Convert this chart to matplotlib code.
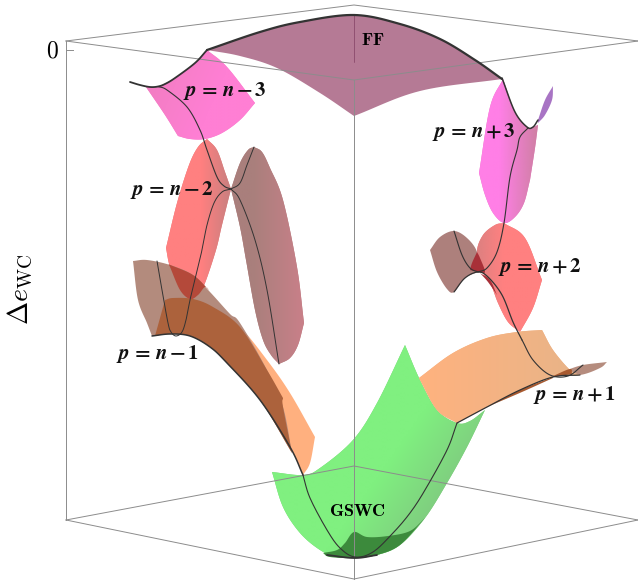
import numpy as np
import matplotlib
matplotlib.use("Agg")
import matplotlib.pyplot as plt
from matplotlib.patches import Polygon
from matplotlib.colors import to_rgb

# ---- frame (picture coordinates) ----
BOX_TOP_BACK = [(66, 41), (354, 5), (638, 41)]
BOX_TOP_FRONT = [(66, 41), (354, 80), (638, 41)]
BOX_BOTTOM_BACK = [(66, 520), (354, 466), (638, 520)]
BOX_BOTTOM_FRONT = [(66, 520), (354, 579), (638, 520)]
BOX_LEFT = [(66, 41), (66, 520)]
BOX_FRONT = [(354, 80), (354, 579)]
TICK_ZERO = [(66, 50), (73, 50)]

# ---- FF ----
FF_TOP = [(207, 50), (260, 32), (300, 22), (354, 15), (400, 24), (440, 39), (475, 60), (502, 79)]
FF_RIGHT = [(502, 79), (420, 91), (354, 116)]
FF_LEFT = [(354, 116), (320, 93), (277, 68), (240, 56), (207, 50)]
FF_CREASE = [(354, 15), (354, 62)]

# ---- p = n - 3 ----
M3_TOP = [(146, 87), (158, 86.5), (175, 78), (195, 63), (207, 50)]
M3_RIGHT = [(207, 50), (227, 67), (255, 103)]
M3_BOTTOM = [(255, 103), (240, 120), (222, 133), (205, 139), (190, 139), (178, 136)]
M3_LEFT = [(178, 136), (165, 115), (146, 87)]
M3_THICK = [(130, 82), (140, 85), (150, 87), (158, 86.5), (165, 84), (175, 78), (195, 63), (207, 50)]
M3_LINE = [(158, 86.5), (167, 90), (187, 107), (200, 130), (207, 150), (217, 177), (224, 186), (231, 189)]

# ---- p = n - 2 ----
M2_LEFT = [(207, 139), (198, 147), (189, 165), (177, 203), (166, 248)]
M2_LOW = [(166, 248), (170, 267), (180, 290), (190, 299), (198, 295), (205, 283), (216, 250), (222, 225), (231, 189)]
M2_UP = [(231, 189), (225, 172), (217, 150), (207, 139)]
M2B_RIGHT = [(254, 147), (262, 152), (270, 168), (283, 200), (297, 267), (304, 323)]
M2B_LOW = [(304, 323), (298, 345), (290, 358), (279, 364)]
M2B_LEFT = [(279, 364), (271, 355), (263, 340), (255, 310), (246, 260), (240, 227), (231, 189)]
M2B_UP = [(231, 189), (240, 163), (248, 150), (254, 147)]
M2_LINE_A = [(231, 189), (240, 183), (247, 165), (254, 147)]
M2_LINE_B = [(231, 189), (240, 200), (255, 240), (267, 290), (279, 364)]
M2_LINE_C = [(231, 189), (222, 192), (214, 203), (207, 225), (202, 250), (194, 283), (190, 300), (186, 320), (182, 332), (176, 336), (171, 332), (168, 323), (162, 290), (157, 261)]
M2_TIP_TOP = [(168, 264), (193, 275), (210, 291)]
M2_TIP_LOW = [(210, 291), (205, 287), (198, 295), (190, 299), (180, 290), (170, 267), (168, 264)]

# ---- p = n - 1 ----
M1B_TOP = [(133, 261), (147, 260), (170, 265), (193, 275), (210, 292), (230, 314), (240, 323), (267, 370), (283, 407), (292, 453)]
M1_LOWER = [(292, 453), (260, 400), (227, 363), (210, 347), (190, 336), (170, 334), (152, 336)]
M1B_LEFT = [(152, 336), (147, 323), (138, 300), (133, 261)]
M1O_TOP = [(165, 300), (173, 298), (193, 299), (213, 307), (240, 327), (267, 360), (290, 393), (315, 437)]
M1O_END = [(315, 437), (310, 463), (303, 475)]
M1O_LOWER = [(303, 475), (290, 447), (260, 400), (227, 363), (210, 347), (190, 336), (170, 334), (155, 336)]
M1O_LEFT = [(155, 336), (165, 300)]
M1D_TOP = [(165, 300), (173, 298), (193, 299), (213, 307), (240, 327), (267, 370), (283, 398)]
M1D_END = [(283, 398), (283, 407), (292, 453)]
M1_THICK = [(152, 336), (170, 334), (190, 336), (210, 347), (227, 363), (260, 400), (290, 447), (303, 475)]

# ---- GSWC ----
G_LEFT = [(405, 345), (377, 403), (353, 440), (320, 468), (303, 475), (272, 472)]
G_LOW = [(272, 472), (283, 507), (300, 533), (320, 550), (337, 557), (355, 558), (377, 555), (400, 545), (425, 518), (447, 483), (467, 447), (485, 410)]
G_RIGHT = [(485, 410), (470, 421), (457, 423), (437, 410), (420, 380), (405, 345)]
GD_TOP = [(323, 553), (337, 550), (345, 543), (354, 532), (367, 537), (388, 536), (410, 531), (425, 518)]
GD_LOW = [(425, 518), (400, 545), (377, 555), (355, 558), (330, 557), (323, 553)]
G_LINE = [(457, 423), (447, 450), (425, 490), (410, 513), (393, 533), (373, 552), (355, 557), (340, 548), (327, 530), (310, 498), (303, 475)]
G_THICK = [(327, 555), (355, 558), (377, 555)]

# ---- p = n + 1 ----
P1_TOP = [(419, 378), (453, 353), (487, 338), (517, 332), (542, 330)]
P1_RIGHT = [(542, 330), (553, 350), (570, 370), (580, 375)]
P1_LOWER = [(580, 375), (553, 377), (520, 390), (487, 407), (457, 423)]
P1_LEFT = [(457, 423), (437, 410), (419, 378)]
P1B_TOP = [(607, 362), (583, 365), (567, 370), (553, 375)]
P1B_LOW = [(553, 375), (580, 375), (600, 368), (607, 362)]
P1D_TOP = [(553, 376), (570, 369), (572, 374)]
P1D_LOW = [(572, 374), (553, 377)]
P1C_TOP = [(553, 377), (520, 390), (487, 407)]
P1C_LOW = [(487, 407), (522, 392), (553, 378)]
P1_LINE = [(522, 340), (533, 360), (550, 375), (568, 376), (583, 365)]

# ---- p = n + 3 ----
P3_LEFT = [(503, 79), (490, 107), (479, 173)]
P3_LOW = [(479, 173), (485, 195), (493, 213), (504, 223), (515, 217), (524, 203), (530, 180)]
P3_UP = [(530, 180), (535, 148), (538, 125)]
P3_TOP = [(538, 125), (533, 127), (527, 127), (515, 112), (503, 79)]
P3_THICK = [(502, 78), (515, 112), (527, 127), (533, 127), (538, 120)]
P3S_A = [(538, 120), (545, 100), (553, 86)]
P3S_B = [(553, 86), (552, 100), (545, 115), (538, 123)]
P3_LINE = [(528, 128), (520, 137), (517, 150), (510, 177), (504, 223), (497, 252), (487, 268), (478, 272)]

# ---- p = n + 2 ----
P2_RIGHT = [(504, 223), (525, 238), (542, 280)]
P2_DOWN = [(542, 280), (533, 308), (520, 332)]
P2_LEFT = [(520, 332), (508, 322), (498, 303), (490, 282), (483, 273), (477, 252), (483, 235), (495, 225), (504, 223)]
P2B_TOP = [(430, 250), (440, 237), (454, 231), (467, 238), (477, 252), (478, 272)]
P2B_LOW = [(478, 272), (465, 278), (454, 292), (447, 289), (437, 272), (430, 250)]
P2D_A = [(477, 252), (472, 263), (470, 270)]
P2D_B = [(470, 270), (478, 272), (485, 272), (480, 258), (477, 252)]
P2W_A = [(480, 273), (490, 280), (497, 295)]
P2W_B = [(497, 295), (488, 282), (480, 273)]
P2_LINE = [(454, 231), (462, 255), (470, 268), (478, 272)]
P2_ARCH = [(454, 292), (465, 278), (478, 272), (488, 277), (502, 295), (513, 322), (522, 340)]

# ---- labels ----
LABELS = [(225, 91, r"$\mathbfit{p}\,\mathbf{=}\,\mathbfit{n}\,\mathbf{-}\,\mathbf{3}$"),
          (172, 190, r"$\mathbfit{p}\,\mathbf{=}\,\mathbfit{n}\,\mathbf{-}\,\mathbf{2}$"),
          (158, 354, r"$\mathbfit{p}\,\mathbf{=}\,\mathbfit{n}\,\mathbf{-}\,\mathbf{1}$"),
          (474, 132, r"$\mathbfit{p}\,\mathbf{=}\,\mathbfit{n}\,\mathbf{+}\,\mathbf{3}$"),
          (540, 267, r"$\mathbfit{p}\,\mathbf{=}\,\mathbfit{n}\,\mathbf{+}\,\mathbf{2}$"),
          (575, 395, r"$\mathbfit{p}\,\mathbf{=}\,\mathbfit{n}\,\mathbf{+}\,\mathbf{1}$")]
WORDS = [(373, 40, r"$\mathbf{FF}$"), (357, 511, r"$\mathbf{GSWC}$")]

fig = plt.figure(figsize=(6.38, 5.82), dpi=100)
ax = fig.add_axes([0, 0, 1, 1])
ax.set_xlim(0, 638)
ax.set_ylim(582, 0)
ax.axis("off")


def curve(pts, n=14):
    """Catmull-Rom smoothing through one read-off edge."""
    p = np.array(pts, float)
    if len(p) < 3:
        return p
    q = np.vstack([2 * p[0] - p[1], p, 2 * p[-1] - p[-2]])
    out = []
    for i in range(1, len(q) - 2):
        t = np.linspace(0, 1, n, endpoint=False)[:, None]
        a, b, c, d = q[i - 1], q[i], q[i + 1], q[i + 2]
        out.append(0.5 * (2 * b + (c - a) * t + (2 * a - 5 * b + 4 * c - d) * t ** 2 + (3 * b - a - 3 * c + d) * t ** 3))
    out.append(p[-1:])
    return np.vstack(out)


def outline(*edges):
    return np.vstack([curve(e) for e in edges])


def shade(edges, c0, c1=None, angle=0.0, z=2, span=(0.0, 1.0)):
    xy = outline(*edges)
    c0v = np.array(to_rgb(c0))
    if c1 is None:
        ax.add_patch(Polygon(xy, closed=True, fc=c0, ec="none", zorder=z))
        return
    c1v = np.array(to_rgb(c1))
    x0, y0 = xy.min(0)
    x1, y1 = xy.max(0)
    gx, gy = np.meshgrid(np.linspace(0, 1, 120), np.linspace(0, 1, 120))
    ang = np.deg2rad(angle)
    f = gx * np.cos(ang) + gy * np.sin(ang)
    f = (f - f.min()) / (f.max() - f.min())
    f = np.clip((f - span[0]) / (span[1] - span[0]), 0, 1)
    img = c0v[None, None, :] * (1 - f[..., None]) + c1v[None, None, :] * f[..., None]
    base = Polygon(xy, closed=True, fc=(c0v + c1v) / 2, ec="none", zorder=z)
    ax.add_patch(base)
    im = ax.imshow(img, extent=(x0, x1, y1, y0), aspect="auto", zorder=z + 0.01, interpolation="bilinear")
    im.set_clip_path(Polygon(xy, closed=True, transform=ax.transData))
    ax.set_xlim(0, 638)
    ax.set_ylim(582, 0)


def stroke(pts, lw=0.8, z=6, c="#333333", smooth=True):
    xy = curve(pts) if smooth else np.array(pts, float)
    ax.plot(xy[:, 0], xy[:, 1], color=c, lw=lw, zorder=z, solid_capstyle="round")


# surfaces
shade([FF_TOP, FF_RIGHT, FF_LEFT], "#b57a95")
shade([M3_TOP, M3_RIGHT, M3_BOTTOM, M3_LEFT], "#ef7dbe", "#ff7fd4", angle=20, span=(0.0, 0.6))
shade([M2_LEFT, M2_LOW, M2_UP], "#ff8080", "#c87f7f", angle=0, span=(0.55, 1.0))
shade([M2B_RIGHT, M2B_LOW, M2B_LEFT, M2B_UP], "#a97f7c", "#c98089", angle=0, span=(0.3, 1.0))
shade([M1O_TOP, M1O_END, M1O_LOWER, M1O_LEFT], "#ffb07f", z=2.2)
shade([M1B_TOP, M1_LOWER, M1B_LEFT], "#b38b7d", z=2.4)
shade([M1D_TOP, M1D_END, M1_LOWER, M1O_LEFT], "#ac623c", z=2.6)
shade([M2_TIP_TOP, M2_TIP_LOW], "#b4493a", z=2.7)
shade([G_LEFT, G_LOW, G_RIGHT], "#80f080", "#7fa97f", angle=35, span=(0.55, 1.0), z=3)
shade([P1_TOP, P1_RIGHT, P1_LOWER, P1_LEFT], "#ffb27f", "#e8b488", angle=0, z=3.2)
shade([GD_TOP, GD_LOW], "#3c8a3c", z=3.4)
shade([P1B_TOP, P1B_LOW], "#b58c7e", z=3.1)
shade([P1D_TOP, P1D_LOW], "#a85a30", z=3.3)
shade([P1C_TOP, P1C_LOW], "#a85a30", z=3.3)
shade([P3_LEFT, P3_LOW, P3_UP, P3_TOP], "#ff7fe6", "#cf7fa3", angle=0, span=(0.35, 1.0), z=2)
shade([P3S_A, P3S_B], "#a874c4", z=2.5)
shade([P2B_TOP, P2B_LOW], "#ad807c", z=2)
shade([P2_RIGHT, P2_DOWN, P2_LEFT], "#dd8080", "#ff8080", angle=0, span=(0.0, 0.4), z=2.1)
shade([P2D_A, P2D_B], "#a83038", z=2.3)
shade([P2W_A, P2W_B], "#a83038", z=2.3)

# frame
for seg in (BOX_TOP_BACK, BOX_TOP_FRONT, BOX_BOTTOM_BACK, BOX_BOTTOM_FRONT, BOX_LEFT, BOX_FRONT, TICK_ZERO):
    xs, ys = zip(*seg)
    ax.plot(xs, ys, color="#8c8c8c", lw=0.7, zorder=5, clip_on=False)
stroke(FF_CREASE, lw=0.6, c="#8a4a6c", smooth=False)

# drawn curves
for seg, lw in ((FF_TOP, 1.6), (M3_THICK, 1.3), (M3_LINE, 0.8), (M2_LINE_A, 0.7), (M2_LINE_B, 0.7),
                (M2_LINE_C, 0.7), (M1_THICK, 1.1), (G_LINE, 0.8), (G_THICK, 1.3),
                (P1_LOWER, 0.9), (P1_LINE, 0.8), (P3_THICK, 1.1), (P3_LINE, 0.8), (P2_LINE, 0.8),
                (P2_ARCH, 0.9)):
    stroke(seg, lw=lw)

# text
for x, y, s in LABELS:
    ax.text(x, y, s, fontsize=15, ha="center", va="center", zorder=8, math_fontfamily="stix", color="#111111")
for x, y, s in WORDS:
    ax.text(x, y, s, fontsize=13, ha="center", va="center", zorder=8, math_fontfamily="cm", color="#000000")
ax.text(52, 50, r"$\mathrm{0}$", fontsize=17, ha="center", va="center", math_fontfamily="cm")
ax.text(20, 290, r"$\Delta e_{\mathrm{WC}}$", fontsize=20, rotation=90, ha="center", va="center", math_fontfamily="cm")

fig.savefig("out.png", dpi=100)
